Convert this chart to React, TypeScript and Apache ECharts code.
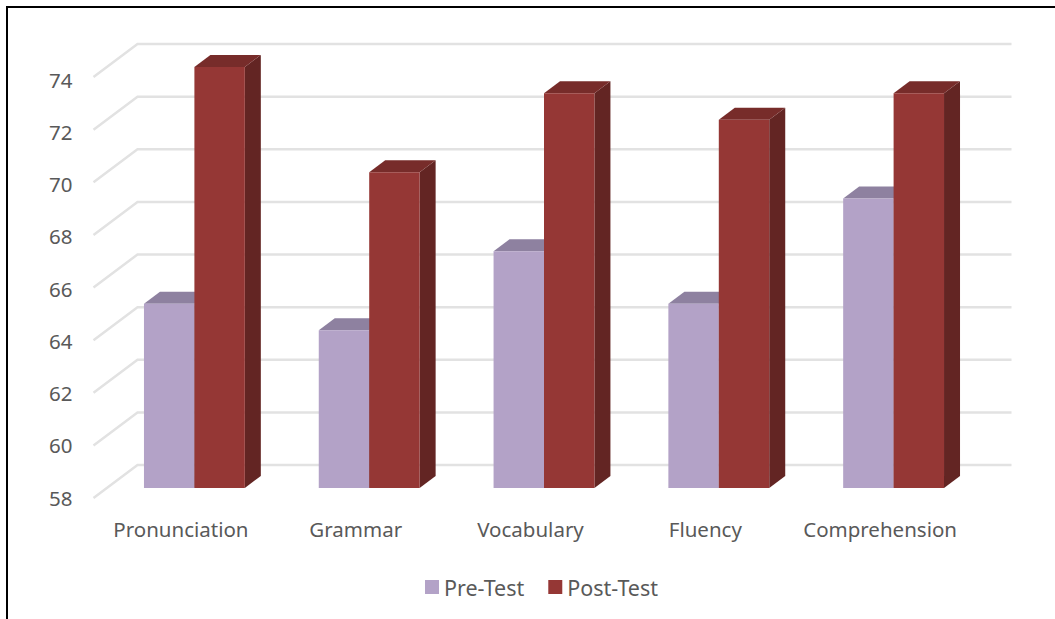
import React, { useEffect, useRef } from "react";
import * as echarts from "echarts";

const categories = ["Pronunciation", "Grammar", "Vocabulary", "Fluency", "Comprehension"];
const preTest = [65, 64, 67, 65, 69];
const postTest = [74, 70, 73, 72, 73];
const gridValues = [58, 60, 62, 64, 66, 68, 70, 72, 74];

const FONT = '"Noto Sans", sans-serif';
const TEXT = "#595959";
const BAR_SHIFT = [13.5, -10];
const DEPTH = [16, -12];
const WALL = [44, -33];

function barRenderer(side: "left" | "right", front: string, top: string, right: string) {
  return (_params: any, api: any) => {
    const c = api.value(0);
    const v = api.value(1);
    const w = api.size([1, 0])[0] * 0.2885;
    const [cx, y1] = api.coord([c, v]);
    const [, y0] = api.coord([c, 58]);
    const xc = cx + BAR_SHIFT[0];
    const xa = side === "left" ? xc - w : xc;
    const xb = xa + w;
    const yt = y1 + BAR_SHIFT[1];
    const yb = y0 + BAR_SHIFT[1];
    const [dx, dy] = DEPTH;
    return {
      type: "group",
      children: [
        {
          type: "polygon",
          shape: { points: [[xb, yb], [xb + dx, yb + dy], [xb + dx, yt + dy], [xb, yt]] },
          style: { fill: right },
        },
        {
          type: "polygon",
          shape: { points: [[xa, yt], [xa + dx, yt + dy], [xb + dx, yt + dy], [xb, yt]] },
          style: { fill: top },
        },
        { type: "rect", shape: { x: xa, y: yt, width: w, height: yb - yt }, style: { fill: front } },
      ],
    };
  };
}

function wallRenderer(params: any, api: any) {
  const sys = params.coordSys;
  const [, y] = api.coord([0, api.value(1)]);
  return {
    type: "polyline",
    shape: {
      points: [
        [sys.x, y],
        [sys.x + WALL[0], y + WALL[1]],
        [sys.x + sys.width + WALL[0], y + WALL[1]],
      ],
    },
    style: { fill: "none", stroke: "#E2E2E2", lineWidth: 2.5 },
  };
}

export default function App() {
  const ref = useRef<HTMLDivElement>(null);
  useEffect(() => {
    const chart = echarts.init(ref.current!, undefined, { renderer: "svg" });
    chart.setOption({
      animation: false,
      backgroundColor: "#FFFFFF",
      textStyle: { fontFamily: FONT },
      grid: [
        { left: 93.5, top: 77, width: 874, height: 421 },
        { left: 93.5, top: 79.5, width: 874, height: 418 },
      ],
      xAxis: [
        {
          type: "category",
          gridIndex: 0,
          data: categories,
          axisLine: { show: false },
          axisTick: { show: false },
          axisLabel: { color: TEXT, fontSize: 20.5, fontFamily: FONT, margin: 20, interval: 0 },
        },
        { type: "category", gridIndex: 1, data: categories, show: false },
      ],
      yAxis: [
        {
          type: "value",
          gridIndex: 0,
          min: 58,
          max: 74,
          interval: 2,
          axisLabel: { show: false },
          axisLine: { show: false },
          axisTick: { show: false },
          splitLine: { show: false },
        },
        {
          type: "value",
          gridIndex: 1,
          min: 58,
          max: 74,
          interval: 2,
          axisLabel: { color: TEXT, fontSize: 20.5, fontFamily: FONT, margin: 21 },
          axisLine: { show: false },
          axisTick: { show: false },
          splitLine: { show: false },
        },
      ],
      legend: {
        data: [
          { name: "Pre-Test", itemStyle: { color: "#B3A2C7" } },
          { name: "Post-Test", itemStyle: { color: "#953735" } },
        ],
        left: 425,
        top: 576,
        padding: 0,
        icon: "rect",
        itemWidth: 14,
        itemHeight: 14,
        itemGap: 24,
        textStyle: { color: TEXT, fontSize: 21.5, fontFamily: FONT },
      },
      graphic: [
        { type: "line", shape: { x1: 7, y1: 7, x2: 7, y2: 619 }, style: { stroke: "#000000", lineWidth: 2 } },
        { type: "line", shape: { x1: 6, y1: 7, x2: 1055, y2: 7 }, style: { stroke: "#000000", lineWidth: 2 } },
      ],
      series: [
        {
          type: "custom",
          name: "wall",
          z: 1,
          xAxisIndex: 0,
          yAxisIndex: 0,
          data: gridValues.map((v) => [0, v]),
          renderItem: wallRenderer,
          silent: true,
        },
        {
          type: "custom",
          name: "Pre-Test",
          z: 2,
          xAxisIndex: 0,
          yAxisIndex: 0,
          itemStyle: { color: "#B3A2C7" },
          data: preTest.map((v, i) => [i, v]),
          renderItem: barRenderer("left", "#B3A2C7", "#8E81A0", "#6F6480"),
        },
        {
          type: "custom",
          name: "Post-Test",
          z: 3,
          xAxisIndex: 0,
          yAxisIndex: 0,
          itemStyle: { color: "#953735" },
          data: postTest.map((v, i) => [i, v]),
          renderItem: barRenderer("right", "#953735", "#772C2A", "#632523"),
        },
      ],
    });
    return () => chart.dispose();
  }, []);
  return <div ref={ref} style={{ position: "fixed", left: 0, top: 0, width: 1055, height: 619 }} />;
}
